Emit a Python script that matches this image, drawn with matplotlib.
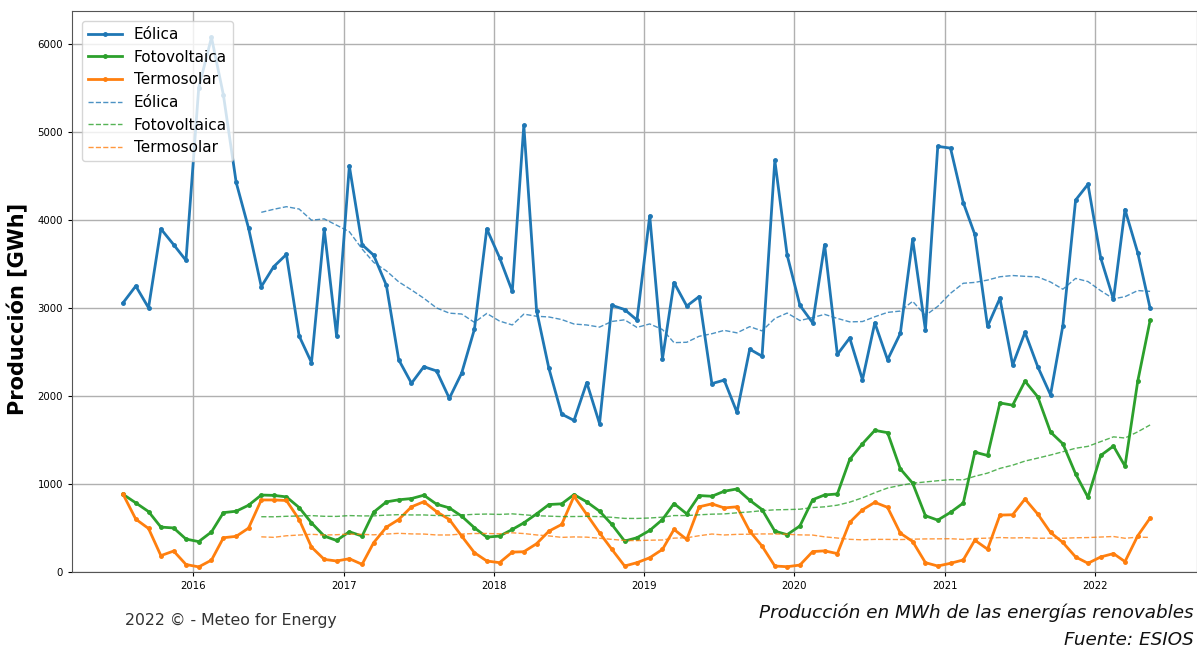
import matplotlib
matplotlib.use("Agg")
import matplotlib.pyplot as plt
import pandas as pd
import numpy as np

# Monthly dates (Jul 2015 - May 2022), plotted mid-month
dates = pd.date_range("2015-07-01", periods=83, freq="MS") + pd.Timedelta(days=14)

eolica = [3056, 3247, 3000, 3896, 3717, 3538,
          5500, 6070, 5415, 4423, 3906, 3240, 3466, 3606, 2680, 2378, 3892, 2681,
          4610, 3717, 3598, 3255, 2410, 2143, 2331, 2283, 1972, 2259, 2757, 3896,
          3570, 3187, 5072, 2968, 2311, 1793, 1721, 2151, 1685, 3028, 2980, 2861,
          4044, 2422, 3287, 3020, 3127, 2139, 2179, 1813, 2530, 2450, 4673, 3598,
          3028, 2829, 3717, 2470, 2657, 2183, 2829, 2410, 2709, 3777, 2749, 4833,
          4813, 4195, 3833, 2789, 3108, 2351, 2721, 2331, 2012, 2797, 4223, 4402,
          3566, 3096, 4116, 3625, 2996]

fotovoltaica = [882, 785, 686, 510, 500, 374,
                345, 455, 674, 690, 758, 874, 870, 853, 732, 558, 408, 358,
                457, 408, 679, 796, 820, 834, 872, 770, 728, 634, 502, 396,
                408, 483, 558, 660, 766, 774, 879, 796, 691, 540, 351, 389,
                472, 596, 777, 660, 868, 860, 917, 943, 815, 709, 464, 424,
                523, 821, 875, 886, 1278, 1456, 1608, 1582, 1171, 1008, 639, 589,
                677, 783, 1361, 1323, 1920, 1894, 2167, 1989, 1589, 1456, 1114, 848,
                1323, 1430, 1202, 2167, 2856]

termosolar = [884, 600, 494, 186, 238, 85,
              58, 135, 389, 405, 498, 818, 818, 812, 596, 283, 143, 125,
              151, 87, 332, 509, 596, 740, 798, 685, 596, 408, 219, 125,
              106, 226, 230, 321, 464, 540, 860, 653, 445, 257, 68, 106,
              162, 257, 483, 370, 740, 774, 728, 740, 464, 294, 68, 60,
              79, 232, 240, 209, 563, 707, 791, 734, 441, 346, 106, 68,
              99, 137, 361, 259, 646, 650, 829, 658, 449, 335, 171, 99,
              171, 209, 118, 411, 612]

names = ["Eólica", "Fotovoltaica", "Termosolar"]
colors = ["#1f77b4", "#2ca02c", "#ff7f0e"]
year_ticks = [2016, 2017, 2018, 2019, 2020, 2021, 2022]

df = pd.DataFrame({"Eólica": eolica, "Fotovoltaica": fotovoltaica,
                   "Termosolar": termosolar}, index=dates)
roll = df.rolling(12).mean()

fig = plt.figure(figsize=(11.97, 6.52), dpi=100)
ax = fig.add_axes([72 / 1197, 80 / 652, 1125 / 1197, 561 / 652])

for n, c in zip(names, colors):
    ax.plot(df.index, df[n], color=c, lw=2, marker=".", ms=5, label=n)
for n, c in zip(names, colors):
    ax.plot(roll.index, roll[n], color=c, lw=1, ls="--", alpha=0.8, label=n)

ax.set_ylim(0, 6370)
ax.set_xlim(pd.Timestamp("2015-03-13"), pd.Timestamp("2022-09-06"))
ax.set_xticks([pd.Timestamp(f"{y}-01-01") for y in year_ticks])
ax.set_xticklabels([str(y) for y in year_ticks])
ax.set_yticks([0, 1000, 2000, 3000, 4000, 5000, 6000])
ax.tick_params(axis="both", labelsize=7.3, length=3)
ax.grid(True, color="#b0b0b0", lw=1)
ax.set_axisbelow(True)
for s in ax.spines.values():
    s.set_color("#555555")

ax.set_ylabel("Producción [GWh]", fontsize=15, fontweight="bold")
ax.yaxis.set_label_coords(-0.039, 0.469)

ax.legend(loc="upper left", fontsize=11, framealpha=0.8,
          handlelength=2.2, borderaxespad=0.65)

fig.text(125 / 1197, 1 - 620 / 652, "2022 © - Meteo for Energy",
         fontsize=11.3, color="#333333", va="center", ha="left")
fig.text(1194 / 1197, 1 - 613 / 652, "Producción en MWh de las energías renovables",
         fontsize=13.2, style="italic", color="#111111", va="center", ha="right")
fig.text(1194 / 1197, 1 - 640 / 652, "Fuente: ESIOS",
         fontsize=13.2, style="italic", color="#111111", va="center", ha="right")

fig.savefig("out.png", dpi=100)
